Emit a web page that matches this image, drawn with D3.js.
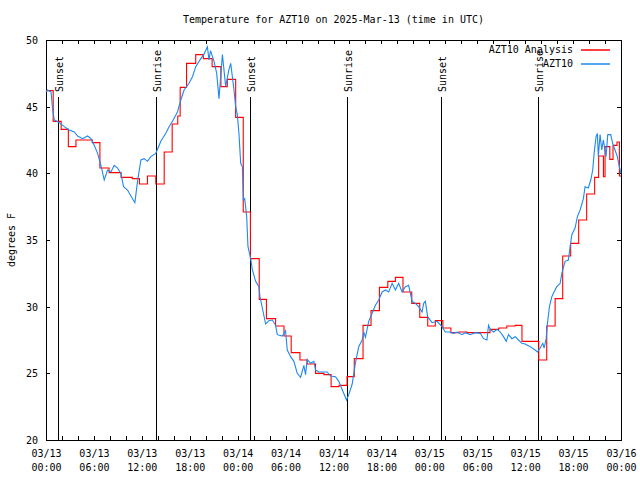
<!DOCTYPE html>
<html>
<head>
<meta charset="utf-8">
<script src="https://cdn.jsdelivr.net/npm/d3@7"></script>
<style>
  body { margin: 0; background: #fff; }
  svg { display: block; }
  text { font-family: "DejaVu Sans Mono", "Liberation Mono", monospace; font-size: 10px; fill: #000; }
</style>
</head>
<body>
<svg id="chart" width="640" height="480"></svg>
<script>
// ---- Data (hours after 2025-03-13 00:00 UTC) ----
const titleText = "Temperature for AZT10 on 2025-Mar-13 (time in UTC)";
const yLabel = "degrees F";
const yTickValues = [20, 25, 30, 35, 40, 45, 50];
const seriesNames = ["AZT10 Analysis", "AZT10"];

// Analysis (step series): start hour of each step and its value
const anaHours = [0, 0.9, 1.9, 2.8, 3.75, 5.8, 6.75, 7.9, 9.4, 10.8, 11.7, 12.7, 13.75, 14.8, 15.8, 16.5, 16.8,
  17.6, 18.75, 19.7, 20.8, 21.9, 22.7, 23.75, 24.7, 25.6, 26.7, 27.6, 28.75, 29.8, 30.7, 31.8, 32.7, 33.75,
  34.8, 35.7, 36.7, 37.7, 38.6, 39.7, 40.7, 41.75, 42.8, 43.75, 44.7, 45.8, 46.8, 47.8, 48.75, 49.7, 50.7,
  51.7, 52.7, 55.6, 56.7, 57.7, 58.75, 59.6, 61.7, 62.7, 63.75, 64.7, 65.7, 66.7, 67.7, 68.7, 69.2, 69.8,
  70.0, 70.6, 71.0, 71.5, 71.8, 72];
const anaTemps = [46.2, 43.9, 43.3, 42.0, 42.5, 42.3, 40.4, 40.05, 39.7, 39.6, 39.2, 39.8, 39.2, 41.6, 43.7, 44.3, 46.45,
  48.25, 48.9, 48.6, 48.0, 46.5, 47.05, 44.2, 37.1, 33.6, 30.55, 29.1, 28.55, 27.8, 26.55, 26.0, 25.7, 25.0,
  24.9, 24.0, 24.1, 24.75, 26.1, 28.6, 29.7, 31.45, 31.9, 32.2, 31.1, 30.25, 29.2, 28.55, 28.95, 28.4, 28.05,
  28.1, 28.05, 28.3, 28.4, 28.55, 28.6, 27.4, 26.0, 28.55, 30.6, 33.8, 34.75, 36.5, 38.45, 39.7, 41.3, 39.75,
  42.0, 41.05, 42.1, 42.35, 39.8, 39.8];

// Observations
const obsHours = [0, 0.21, 0.63, 0.84, 1.04, 1.66, 2.29, 2.91, 3.54, 3.96, 4.59, 5.21, 5.63, 6.04, 6.46, 6.88, 7.29,
  7.71, 8.13, 8.54, 8.96, 9.38, 9.71, 10.21, 10.63, 11.13, 11.46, 11.88, 12.29, 12.71, 13.13, 13.75, 14.38,
  15.0, 15.41, 15.84, 16.46, 16.88, 17.29, 17.91, 18.34, 18.75, 19.38, 19.75, 20.21, 20.41, 20.6, 21.04,
  21.375, 21.66, 22.09, 22.5, 22.875, 23.13, 23.54, 23.75, 23.96, 24.16, 24.38, 24.59, 24.71, 24.88, 25.13,
  25.29, 25.63, 25.84, 26.25, 26.66, 26.79, 27.09, 27.5, 27.91, 28.34, 28.75, 28.96, 29.59, 30.0, 30.21,
  30.63, 31.04, 31.46, 31.88, 32.29, 32.5, 32.71, 33.13, 33.54, 33.75, 34.16, 35.21, 35.63, 36.25, 36.66,
  37.21, 37.63, 37.91, 38.34, 38.75, 39.16, 39.59, 39.79, 40.0, 40.41, 40.84, 41.25, 41.66, 42.09, 42.5,
  42.91, 43.34, 43.75, 44.16, 44.59, 45.0, 45.41, 45.84, 46.25, 46.66, 47.09, 47.29, 47.5, 47.79, 48.34,
  48.96, 49.59, 50.0, 50.5, 51.04, 51.5, 52.09, 52.5, 53.13, 53.75, 54.38, 54.79, 55.21, 55.41, 55.63,
  56.04, 56.5, 56.88, 57.29, 57.63, 57.91, 58.34, 58.75, 59.16, 59.59, 60.0, 60.63, 61.25, 61.54, 61.88,
  62.21, 62.38, 62.63, 62.79, 63.04, 63.34, 63.54, 63.96, 64.38, 64.59, 65.0, 65.41, 65.63, 65.84, 66.25,
  66.54, 66.88, 67.29, 67.5, 67.91, 68.21, 68.46, 68.63, 68.88, 69.04, 69.16, 69.38, 69.59, 69.79, 70.13,
  70.34, 70.71, 70.96, 71.25, 71.54, 71.79, 72.0];
const obsTemps = [46.1, 46.25, 46.1, 44.75, 44.0, 43.8, 43.5, 43.25, 43.1, 42.8, 42.6, 42.8, 42.6, 42.1, 41.5, 40.6, 39.5,
  40.25, 40.1, 40.6, 40.4, 40.0, 39.0, 38.75, 38.3, 37.8, 39.4, 41.0, 41.1, 40.9, 41.25, 41.5, 42.4,
  43.0, 43.5, 43.9, 44.6, 45.5, 46.25, 46.75, 47.25, 48.0, 48.6, 48.9, 49.5, 48.5, 49.2, 48.4,
  47.5, 45.6, 48.9, 46.5, 47.7, 48.25, 46.25, 45.0, 44.4, 43.0, 40.75, 40.5, 38.0, 38.1, 36.75,
  34.5, 33.6, 32.75, 31.9, 31.5, 30.75, 29.9, 28.7, 28.95, 29.0, 28.6, 27.9, 27.8, 28.2, 26.75,
  26.25, 25.9, 25.0, 24.7, 25.6, 24.9, 26.05, 25.75, 25.9, 25.25, 25.1, 25.1, 24.8, 24.75, 24.4,
  23.6, 23.0, 23.4, 24.2, 25.8, 27.0, 27.5, 28.1, 27.7, 28.9, 29.5, 30.1, 30.5, 31.1, 31.25,
  31.1, 31.75, 31.25, 31.75, 31.1, 31.5, 31.6, 30.4, 30.25, 30.0, 29.6, 30.25, 30.4, 29.25, 28.8,
  28.9, 28.5, 28.1, 28.1, 28.0, 28.1, 27.9, 28.05, 27.9, 28.05, 28.0, 27.6, 27.5, 28.6, 28.3,
  28.1, 28.3, 28.1, 27.75, 27.4, 27.9, 27.6, 27.75, 27.5, 27.25, 27.2, 27.0, 26.75, 26.6, 26.9,
  27.25, 26.9, 27.6, 28.75, 30.0, 30.75, 31.0, 31.5, 31.75, 32.5, 33.4, 33.5, 34.5, 35.4, 35.9,
  36.75, 37.25, 38.1, 39.0, 38.9, 39.5, 40.25, 41.5, 42.75, 43.0, 41.25, 42.9, 41.75, 42.5, 41.25,
  42.9, 42.9, 42.25, 41.75, 41.25, 40.5, 40.0];

// Sun events
const sunLabels = ["Sunset", "Sunrise", "Sunset", "Sunrise", "Sunset", "Sunrise"];
const sunHours = [1.5, 13.72, 25.5, 37.7, 49.5, 61.65];

// ---- Drawing ----
const base = Date.UTC(2025, 2, 13, 0, 0);
const toDate = h => new Date(base + h * 3600e3);

const L = 46, R = 621, T = 40, B = 440;
const svg = d3.select("#chart");

const x = d3.scaleUtc().domain([toDate(0), toDate(72)]).range([L, R]);
const y = d3.scaleLinear().domain([20, 50]).range([B, T]);

// title
svg.append("text").attr("x", (L + R) / 2).attr("y", 23).attr("text-anchor", "middle").text(titleText);

// y label
svg.append("text").attr("transform", `translate(15,${(T + B) / 2}) rotate(-90)`)
  .attr("text-anchor", "middle").text(yLabel);

// axes (ticks inside)
const tickEvery = d3.utcHour.every(2);
const gB = svg.append("g").attr("transform", `translate(0,${B})`)
  .call(d3.axisBottom(x).ticks(tickEvery).tickSize(-4).tickFormat(""));
const gT = svg.append("g").attr("transform", `translate(0,${T})`)
  .call(d3.axisTop(x).ticks(tickEvery).tickSize(-4).tickFormat(""));
const gL = svg.append("g").attr("transform", `translate(${L},0)`)
  .call(d3.axisLeft(y).tickValues(yTickValues).tickSize(-4).tickPadding(8).tickFormat(d3.format("d")));
const gR = svg.append("g").attr("transform", `translate(${R},0)`)
  .call(d3.axisRight(y).tickValues(yTickValues).tickSize(-4).tickFormat(""));
[gB, gT, gL, gR].forEach(g => {
  g.select(".domain").remove();
  g.selectAll("line").attr("stroke", "#000").attr("shape-rendering", "crispEdges");
  g.selectAll("text").style("font-family", "DejaVu Sans Mono").style("font-size", "10px").attr("fill", "#000");
});
gL.selectAll("text").attr("dy", "0.35em");

// bottom labels (two lines)
const labelTicks = d3.utcHour.every(6).range(toDate(0), toDate(72.01));
const gLab = svg.append("g").attr("transform", `translate(0,${B})`)
  .call(d3.axisBottom(x).tickValues(labelTicks).tickSize(0).tickFormat(""));
gLab.select(".domain").remove();
gLab.selectAll(".tick").each(function(d) {
  const t = d3.select(this).append("text").attr("text-anchor", "middle")
    .style("font-family", "DejaVu Sans Mono").style("font-size", "10px").attr("fill", "#000");
  t.append("tspan").attr("x", 0).attr("y", 17).text(d3.utcFormat("%m/%d")(d));
  t.append("tspan").attr("x", 0).attr("y", 31).text(d3.utcFormat("%H:%M")(d));
});

// border
svg.append("rect").attr("x", L).attr("y", T).attr("width", R - L).attr("height", B - T)
  .attr("fill", "none").attr("stroke", "#000").attr("shape-rendering", "crispEdges");

// sun lines
const sun = svg.append("g");
sunHours.forEach((h, i) => {
  const xp = Math.round(x(toDate(h))) + 0.5;
  sun.append("line").attr("x1", xp).attr("x2", xp).attr("y1", 97).attr("y2", B)
    .attr("stroke", "#000").attr("stroke-width", 1);
  sun.append("text").attr("transform", `translate(${xp + 4},92) rotate(-90)`)
    .attr("text-anchor", "start").text(sunLabels[i]);
});

// series
const anaData = anaHours.map((h, i) => ({ t: toDate(h), v: anaTemps[i] }));
const obsData = obsHours.map((h, i) => ({ t: toDate(h), v: obsTemps[i] }));

svg.append("path").datum(anaData)
  .attr("fill", "none").attr("stroke", "#ff0000").attr("stroke-width", 1.1)
  .attr("d", d3.line().x(d => x(d.t)).y(d => y(d.v)).curve(d3.curveStepAfter));

svg.append("path").datum(obsData)
  .attr("fill", "none").attr("stroke", "#1e88f0").attr("stroke-width", 1.1)
  .attr("d", d3.line().x(d => x(d.t)).y(d => y(d.v)));

// legend
const legColors = ["#ff0000", "#1e88f0"];
const legY = [49, 63];
seriesNames.forEach((n, i) => {
  svg.append("text").attr("x", 573).attr("y", legY[i]).attr("dy", "0.35em")
    .attr("text-anchor", "end").text(n);
  svg.append("line").attr("x1", 581).attr("x2", 610).attr("y1", legY[i] + 1).attr("y2", legY[i] + 1)
    .attr("stroke", legColors[i]).attr("stroke-width", 1.5);
});
</script>
</body>
</html>
